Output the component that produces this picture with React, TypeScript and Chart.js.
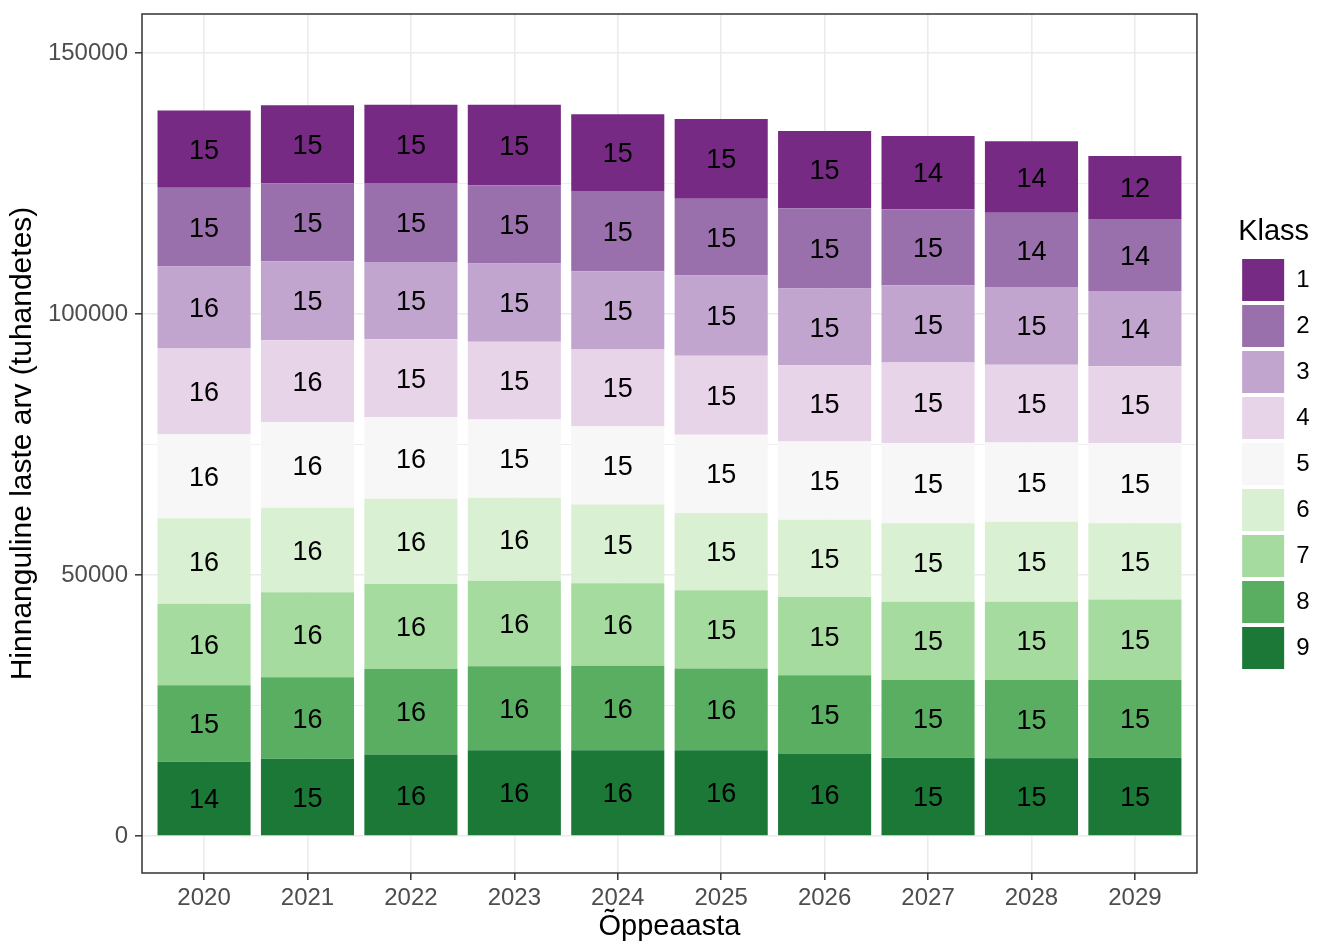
import React, { useEffect, useRef } from "react";
import { Chart, registerables } from "chart.js";

Chart.register(...registerables);

const years = [2020, 2021, 2022, 2023, 2024, 2025, 2026, 2027, 2028, 2029];

// Estimated number of children per class (Klass), bottom (9) to top (1)
const klass9 = [14200, 14800, 15600, 16400, 16400, 16400, 15700, 15000, 14900, 15000];
const klass8 = [14700, 15600, 16400, 16100, 16200, 15700, 15100, 14900, 15000, 14900];
const klass7 = [15600, 16300, 16300, 16400, 15800, 15000, 15000, 15000, 15000, 15400];
const klass6 = [16400, 16200, 16300, 15900, 15100, 14800, 14800, 15000, 15300, 14600];
const klass5 = [16100, 16400, 15700, 15000, 15000, 15000, 15000, 15400, 15200, 15400];
const klass4 = [16400, 15700, 14900, 14900, 14800, 15100, 14600, 15400, 14900, 14700];
const klass3 = [15700, 15100, 14800, 15000, 14900, 15400, 14700, 14800, 14900, 14400];
const klass2 = [15100, 14900, 15100, 15000, 15400, 14700, 15400, 14600, 14200, 13800];
const klass1 = [14800, 15000, 15000, 15400, 14700, 15300, 14800, 14000, 13700, 12100];

const klassNames = ["9", "8", "7", "6", "5", "4", "3", "2", "1"];
const klassValues = [klass9, klass8, klass7, klass6, klass5, klass4, klass3, klass2, klass1];
const klassColors = ["#1b7837", "#5aae61", "#a6dba0", "#d9f0d3", "#f7f7f7", "#e7d4e8", "#c2a5cf", "#9970ab", "#762a83"];

const yMajorTicks = [0, 50000, 100000, 150000];
const yAllTicks = [0, 25000, 50000, 75000, 100000, 125000, 150000];

const FONT = '"Liberation Sans", Arial, Helvetica, sans-serif';

const segmentLabels = {
  id: "segmentLabels",
  afterDatasetsDraw(chart: any) {
    const ctx = chart.ctx;
    ctx.save();
    const size = 27;
    ctx.font = `${size}px ${FONT}`;
    ctx.fillStyle = "#000000";
    ctx.textAlign = "center";
    ctx.textBaseline = "alphabetic";
    chart.data.datasets.forEach((ds: any, di: number) => {
      const meta = chart.getDatasetMeta(di);
      meta.data.forEach((el: any, i: number) => {
        const v = ds.data[i];
        const cy = (el.y + el.base) / 2;
        ctx.fillText(String(Math.round(v / 1000)), el.x, cy + 0.358 * size);
      });
    });
    ctx.restore();
  },
};

const panelBorder = {
  id: "panelBorder",
  afterLayout(chart: any) {
    if (chart.legend) {
      chart.legend.left += 2.5;
      chart.legend.right += 2.5;
    }
  },
  afterDraw(chart: any) {
    const { ctx, chartArea } = chart;
    ctx.save();
    ctx.strokeStyle = "#333333";
    ctx.lineWidth = 1.5;
    ctx.strokeRect(chartArea.left, chartArea.top, chartArea.right - chartArea.left, chartArea.bottom - chartArea.top);
    ctx.restore();
  },
};

export default function App() {
  const canvasRef = useRef<HTMLCanvasElement | null>(null);

  useEffect(() => {
    if (!canvasRef.current) return;
    Chart.defaults.font.family = FONT;
    const chart = new Chart(canvasRef.current, {
      type: "bar",
      data: {
        labels: years,
        datasets: klassNames.map((name, i) => ({
          label: name,
          data: klassValues[i],
          backgroundColor: klassColors[i],
          borderWidth: 0,
          categoryPercentage: 1,
          barPercentage: 0.9,
        })),
      },
      options: {
        responsive: false,
        animation: false,
        layout: { padding: { top: 14, right: 0, bottom: 0, left: 0 } },
        plugins: {
          tooltip: { enabled: false },
          legend: {
            position: "right",
            align: "center",
            fullSize: false,
            reverse: true,
            labels: {
              boxWidth: 42,
              boxHeight: 42,
              padding: 4,
              color: "#000000",
              font: { size: 24, family: FONT },
            },
            title: {
              display: true,
              text: "Klass",
              position: "start",
              padding: 3,
              color: "#000000",
              font: { size: 29, family: FONT },
            },
          },
        },
        scales: {
          x: {
            type: "linear",
            stacked: true,
            offset: false,
            min: 2019.4,
            max: 2029.6,
            afterFit: (s: any) => {
              s.height = 71;
            },
            grid: {
              offset: false,
              color: "#ebebeb",
              lineWidth: 1.6,
              drawTicks: true,
              tickLength: 7,
              tickColor: "#333333",
              tickWidth: 1.5,
            },
            border: { display: false },
            ticks: {
              stepSize: 1,
              includeBounds: false,
              autoSkip: false,
              maxRotation: 0,
              padding: 4,
              color: "#4d4d4d",
              font: { size: 24, family: FONT },
              callback: (v: any) => String(v),
            },
            title: {
              display: true,
              text: "Õppeaasta",
              color: "#000000",
              font: { size: 29, family: FONT },
              padding: { top: 0, bottom: 0 },
            },
          },
          y: {
            type: "linear",
            stacked: true,
            min: -7100,
            max: 157500,
            afterBuildTicks: (s: any) => {
              s.ticks = yAllTicks.map((v) => ({ value: v }));
            },
            afterFit: (s: any) => {
              s.width = 142;
              s.paddingTop = 0;
              s.paddingBottom = 0;
            },
            grid: {
              color: "#ebebeb",
              lineWidth: (c: any) => (yMajorTicks.includes(c.tick?.value) ? 1.6 : 0.8),
              drawTicks: true,
              tickLength: 7,
              tickColor: (c: any) => (yMajorTicks.includes(c.tick?.value) ? "#333333" : "rgba(0,0,0,0)"),
              tickWidth: 1.5,
            },
            border: { display: false },
            ticks: {
              autoSkip: false,
              padding: 7,
              color: "#4d4d4d",
              font: { size: 24, family: FONT },
              callback: (v: any) => (yMajorTicks.includes(v) ? String(v) : ""),
            },
            title: {
              display: true,
              text: "Hinnanguline laste arv (tuhandetes)",
              color: "#000000",
              font: { size: 30, family: FONT },
              padding: { top: 5, bottom: 0 },
            },
          },
          yr: {
            type: "linear",
            position: "right",
            display: true,
            afterFit: (s: any) => {
              s.width = 38.7;
              s.paddingTop = 0;
              s.paddingBottom = 0;
            },
            grid: { display: false, drawTicks: false },
            border: { display: false },
            ticks: { display: false },
          },
        },
      } as any,
      plugins: [segmentLabels, panelBorder],
    });
    return () => chart.destroy();
  }, []);

  return (
    <div style={{ position: "fixed", left: 0, top: 0, width: 1317, height: 944, background: "#ffffff" }}>
      <canvas ref={canvasRef} width={1317} height={944} style={{ display: "block" }} />
    </div>
  );
}
